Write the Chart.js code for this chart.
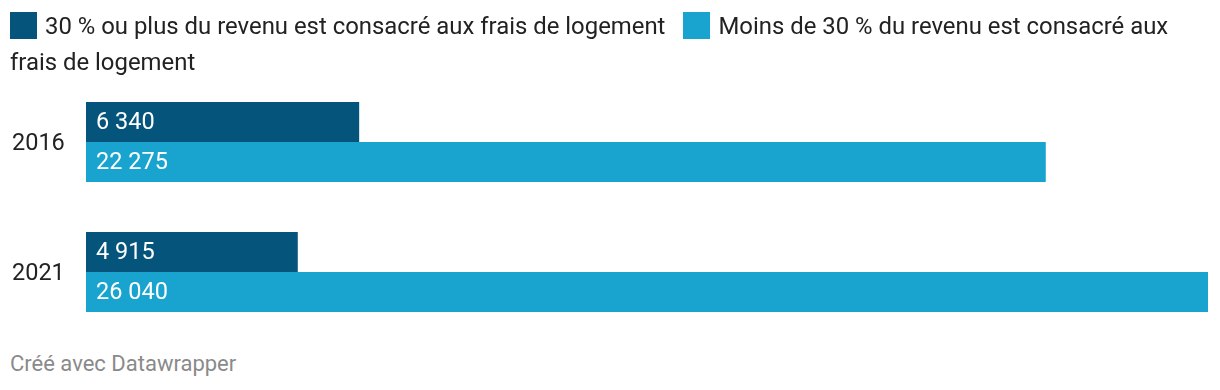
<!DOCTYPE html>
<html><head><meta charset="utf-8">
<script src="https://cdn.jsdelivr.net/npm/chart.js@4/dist/chart.umd.min.js"></script>
<style>
html,body{margin:0;padding:0;background:#fff;width:1220px;height:390px;overflow:hidden;font-family:Roboto,"Noto Sans",sans-serif;}
#legend{position:absolute;left:10px;top:8px;width:1180px;font-size:23.9px;line-height:36px;color:#222;z-index:2;}
.sw{display:inline-block;width:27px;height:27px;vertical-align:-5px;margin-right:8px;}
.item{margin-right:18px;}
#wrap{position:absolute;left:12px;top:77px;width:1208px;height:260px;}
#footer{position:absolute;left:10px;top:351px;font-size:22px;color:#8a8a8a;}
</style></head><body>
<div id="legend"></div>
<div id="wrap"><canvas id="c"></canvas></div>
<div id="footer">Créé avec Datawrapper</div>
<script>
const categories = ["2016", "2021"];
const seriesNames = ["30 % ou plus du revenu est consacré aux frais de logement", "Moins de 30 % du revenu est consacré aux frais de logement"];
const over30 = [6340, 4915];
const under30 = [22275, 26040];
const colors = ["#04547c", "#19a3cf"];

const lg = document.getElementById('legend');
seriesNames.forEach((n,i)=>{
  const s = document.createElement('span'); s.className='item';
  s.innerHTML = '<span class="sw" style="background:'+colors[i]+'"></span>'+n;
  lg.appendChild(s);
});

function fmt(v){ return String(v).replace(/\B(?=(\d{3})+(?!\d))/g,' '); }

const labelPlugin = {
  id:'lbl',
  afterDatasetsDraw(chart){
    const ctx = chart.ctx;
    ctx.save();
    ctx.font = '23.5px Roboto, "Noto Sans", sans-serif';
    ctx.fillStyle = '#fff';
    ctx.textBaseline = 'middle';
    ctx.textAlign = 'left';
    chart.data.datasets.forEach((ds,di)=>{
      chart.getDatasetMeta(di).data.forEach((bar,i)=>{
        ctx.fillText(fmt(ds.data[i]), bar.base + 10, bar.y + 1);
      });
    });
    ctx.restore();
  }
};

new Chart(document.getElementById('c'), {
  type:'bar',
  data:{
    labels: categories,
    datasets:[
      {label:seriesNames[0], data:over30, backgroundColor:colors[0], borderWidth:0, barPercentage:1, categoryPercentage:80/130},
      {label:seriesNames[1], data:under30, backgroundColor:colors[1], borderWidth:0, barPercentage:1, categoryPercentage:80/130}
    ]
  },
  options:{
    indexAxis:'y',
    responsive:true, maintainAspectRatio:false, animation:false,
    layout:{padding:{top:0,bottom:0,left:0,right:12}},
    plugins:{legend:{display:false}, tooltip:{enabled:false}},
    scales:{
      x:{display:false, min:0, max:26040},
      y:{
        grid:{display:false}, border:{display:false},
        ticks:{color:'#222', font:{size:23.5, family:'Roboto'}, crossAlign:'far', padding:0, labelOffset:2},
        afterFit(s){ s.width = 74; s.paddingTop = 0; s.paddingBottom = 0; }
      }
    }
  },
  plugins:[labelPlugin]
});
</script>
</body></html>
